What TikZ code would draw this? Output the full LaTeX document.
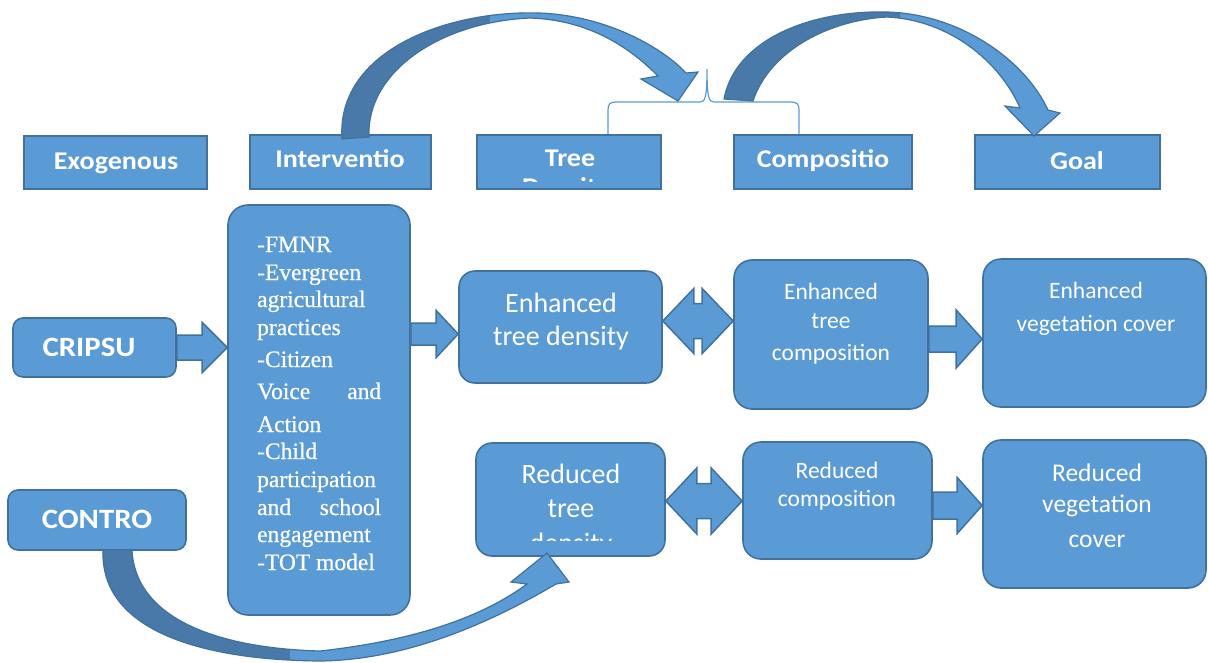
\documentclass[tikz,border=0pt]{standalone}
\usepackage{fontspec}
\setmainfont{Liberation Serif}
\newfontfamily\ivfont[FakeBold=0.6]{Liberation Serif}
\newfontfamily\gill{Carlito}
\newfontfamily\gillw[FakeStretch=1.1]{Carlito}
\usetikzlibrary{calc}
\definecolor{main}{HTML}{5B9BD5}
\definecolor{edge}{HTML}{41719C}
\definecolor{darkarc}{HTML}{4879A9}

\newcommand\blockarrow[6]{%
  \filldraw[arrowshape] let \p1=(#1), \p2=(#2), \p3=(0,#3) in
   (\x1,\y3+#4pt) -- (\x2-#6pt,\y3+#4pt) -- (\x2-#6pt,\y3+#5pt) -- (\x2,\y3) --
   (\x2-#6pt,\y3-#5pt) -- (\x2-#6pt,\y3-#4pt) -- (\x1,\y3-#4pt) -- cycle;}
\newcommand\dblarrow[6]{%
  \filldraw[arrowshape] let \p1=(#1), \p2=(#2), \p3=(0,#3) in
   (\x1,\y3) -- (\x1+#6pt,\y3+#5pt) -- (\x1+#6pt,\y3+#4pt) -- (\x2-#6pt,\y3+#4pt) --
   (\x2-#6pt,\y3+#5pt) -- (\x2,\y3) -- (\x2-#6pt,\y3-#5pt) -- (\x2-#6pt,\y3-#4pt) --
   (\x1+#6pt,\y3-#4pt) -- (\x1+#6pt,\y3-#5pt) -- cycle;}

\def\arcA{(342,139) .. controls (336,52) and (445,10) .. (540,13) .. controls (610,16) and (665,50) .. (686,73) -- (698,72) -- (678,101) -- (641,79) -- (658,76) .. controls (630,48) and (590,20) .. (530,18) .. controls (440,22) and (366,72) .. (369,137) -- cycle}
\def\arcB{(724,99) .. controls (735,40) and (810,10) .. (887,12) .. controls (960,14) and (1025,60) .. (1048,110) -- (1060,113) -- (1034,136) -- (1005,106) -- (1020,108) .. controls (1000,62) and (950,20) .. (887,17) .. controls (830,20) and (770,50) .. (753,101) -- cycle}
\def\arcC{(103,550) .. controls (100,630) and (200,660) .. (320,661) .. controls (410,660) and (495,620) .. (556,584) -- (569,582) -- (547,553) -- (511,582) -- (527,584) .. controls (485,615) and (420,640) .. (320,651) .. controls (210,648) and (135,615) .. (132,550) -- cycle}

\begin{document}
\begin{tikzpicture}[x=1pt,y=-1pt,
  hbox/.style={draw=edge, fill=main, line width=1.6pt, inner sep=0},
  rbox/.style={draw=edge, fill=main, line width=1.6pt, inner sep=0, rounded corners=#1},
  rbox/.default=16pt,
  txt/.style={text=white, inner sep=0, anchor=base},
  hdr/.style={txt, font=\gillw\bfseries\fontsize{25.5}{30}\selectfont},
  captext/.style={txt, font=\gillw\bfseries\fontsize{28}{32}\selectfont},
  bodyL/.style={txt, font=\gill\fontsize{28}{34}\selectfont},
  bodyM/.style={txt, font=\gill\fontsize{23.5}{28}\selectfont},
  bodyR/.style={txt, font=\gill\fontsize{25.5}{30}\selectfont},
  ivtext/.style={text=white, inner sep=0, anchor=base west, font=\ivfont\fontsize{23.5}{28}\selectfont},
  arrowshape/.style={fill=main, draw=edge, line width=1.5pt, line join=miter},
  arcedge/.style={draw=edge, line width=1.2pt}
]
\useasboundingbox (0,0) rectangle (1208,662);

% brace
\draw[main, line width=1.2pt] (608,135) -- (608,110) .. controls (608,104) and (610,102) .. (616,102) -- (700,102) .. controls (705,102) and (707,98) .. (707,69) .. controls (707,98) and (709,102) .. (714,102) -- (791,102) .. controls (797,102) and (799,104) .. (799,110) -- (799,135);

% header boxes
\node[hbox, minimum width=183pt, minimum height=53pt] (exo) at (115.5,162.5) {};
\node[hbox, minimum width=181pt, minimum height=54pt] (intvh) at (340.5,162) {};
\node[hbox, minimum width=184pt, minimum height=54pt] (treeh) at (569,162) {};
\node[hbox, minimum width=178pt, minimum height=54pt] (comph) at (823,162) {};
\node[hbox, minimum width=185pt, minimum height=54pt] (goalh) at (1067.5,162) {};
\node[hdr] (exoT) at (116,169) {Exogenous};
\node[hdr] (intvhT) at (340,167) {Interventio};
\node[hdr] (treehT) at (570,166) {Tree};
\begin{scope}
  \clip (479,137) rectangle (659,181);
  \node[hdr] (treehT2) at (566,195) {Density};
\end{scope}
\node[hdr] (comphT) at (823,167) {Compositio};
\node[hdr] (goalhT) at (1077,169) {Goal};

% main boxes
\node[rbox=10pt, minimum width=163pt, minimum height=59pt] (cripsu) at (94.5,347.5) {};
\node[rbox=10pt, minimum width=178pt, minimum height=60pt] (contro) at (97,520) {};
\node[rbox=20pt, minimum width=182pt, minimum height=410pt] (interv) at (319,410) {};
\node[rbox, minimum width=203pt, minimum height=112pt] (etd) at (560.5,327) {};
\node[rbox, minimum width=189pt, minimum height=113pt] (rtd) at (570.5,499.5) {};
\node[rbox=18pt, minimum width=194pt, minimum height=149pt] (etc) at (831,334.5) {};
\node[rbox=18pt, minimum width=189pt, minimum height=117pt] (rc) at (837.5,500.5) {};
\node[rbox=18pt, minimum width=223pt, minimum height=148pt] (evc) at (1094.5,333) {};
\node[rbox=18pt, minimum width=223pt, minimum height=148pt] (rvc) at (1094.5,514) {};

\node[captext] (cripsuT) at (89,356) {CRIPSU};
\node[captext] (controT) at (97,528) {CONTRO};

\foreach \t/\yy [count=\i] in {{-FMNR}/252, {-Evergreen}/280, {agricultural}/307, {practices}/335, {-Citizen}/367, {\hbox to 124pt{Voice\hfill and}}/399, {Action}/432, {-Child}/459, {participation}/487, {\hbox to 124pt{and\hfill school}}/515, {engagement}/542, {-TOT model}/570}
  \node[ivtext] (iv\i) at (257,\yy) {\t};

\node[bodyL] (etd1) at (561,312) {Enhanced};
\node[bodyL] (etd2) at (561,345) {tree density};
\node[bodyL] (rtd1) at (571,483) {Reduced};
\node[bodyL] (rtd2) at (571,517) {tree};
\begin{scope}
  \clip (478,445) rectangle (663,540);
  \node[bodyL] (rtd3) at (571,552) {density};
\end{scope}
\node[bodyM] (etc1) at (831,299) {Enhanced};
\node[bodyM] (etc2) at (831,328) {tree};
\node[bodyM] (etc3) at (831,360) {composition};
\node[bodyM] (evc1) at (1096,298) {Enhanced};
\node[bodyM] (evc2) at (1096,331) {vegetation cover};
\node[bodyM] (rc1) at (837,478) {Reduced};
\node[bodyM] (rc2) at (837,506) {composition};
\node[bodyR] (rvc1) at (1097,481) {Reduced};
\node[bodyR] (rvc2) at (1097,512) {vegetation};
\node[bodyR] (rvc3) at (1097,547) {cover};

% block arrows
\blockarrow{cripsu.east}{interv.west}{347.5}{12.5}{25}{25}
\blockarrow{interv.east}{etd.west}{334}{11}{23.5}{22}
\blockarrow{etc.east}{evc.west}{339}{13}{29}{26}
\blockarrow{rc.east}{rvc.west}{505.5}{13.5}{28}{25}
\dblarrow{etd.east}{etc.west}{321}{17.5}{32.5}{31}
\dblarrow{rtd.east}{rc.west}{501}{17.5}{33}{31}

% curved arrows
\begin{scope}\clip (0,0) rectangle (490,662); \fill[darkarc] \arcA; \end{scope}
\begin{scope}\clip (490,0) rectangle (1208,662); \fill[main] \arcA; \end{scope}
\path[arcedge] \arcA;
\begin{scope}\clip (0,0) rectangle (900,662); \fill[darkarc] \arcB; \end{scope}
\begin{scope}\clip (900,0) rectangle (1208,662); \fill[main] \arcB; \end{scope}
\path[arcedge] \arcB;
\begin{scope}\clip (0,0) rectangle (290,662); \fill[darkarc] \arcC; \end{scope}
\begin{scope}\clip (290,0) rectangle (1208,662); \fill[main] \arcC; \end{scope}
\path[arcedge] \arcC;
\end{tikzpicture}
\end{document}
